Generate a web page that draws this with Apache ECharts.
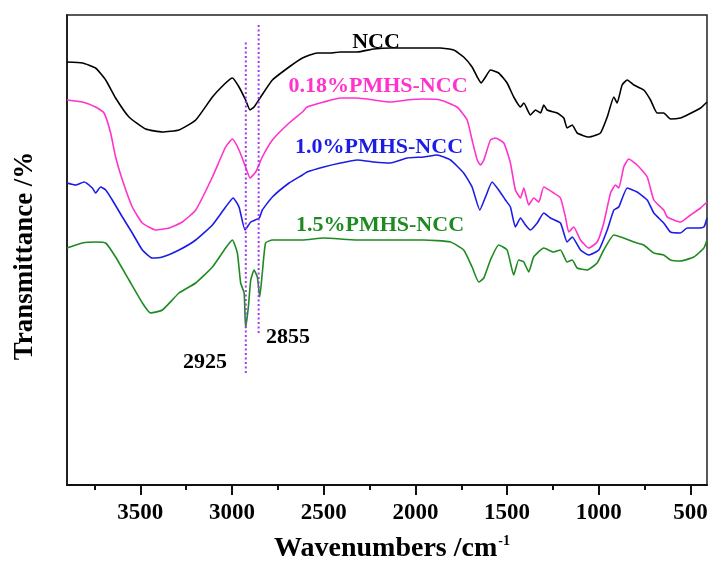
<!DOCTYPE html>
<html>
<head>
<meta charset="utf-8">
<script src="https://cdn.jsdelivr.net/npm/echarts@6/dist/echarts.min.js"></script>
<style>html,body{margin:0;padding:0;background:#fff}#c{width:711px;height:565px}</style>
</head>
<body>
<div id="c"></div>
<script>
// Wavenumbers (cm^-1) and transmittance (arbitrary offset units)
const nccWn = [3900,3816,3744,3689,3635,3562,3471,3380,3289,3198,3107,3035,2998,2962,2926,2902,2880,2844,2780,2689,2616,2536,2464,2409,2318,2227,2136,2045,1955,1864,1791,1737,1691,1663,1642,1618,1591,1546,1500,1464,1427,1409,1373,1345,1318,1300,1282,1227,1191,1173,1145,1118,1055,991,954,918,900,873,845,809,755,718,682,646,609,555,518,445,410];
const nccT  = [423,422,417,405,387,368,356,353,355,365,388,402,407,398,385,375,378,388,405,418,427,432,432,433,433,436,437,437,437,437,435,428,418,408,402,408,415,412,402,388,378,382,370,375,372,380,375,372,367,357,360,352,348,352,368,388,382,400,405,400,395,385,372,372,366,367,370,377,383];

const p018Wn = [3900,3816,3744,3698,3662,3635,3598,3544,3489,3417,3343,3271,3198,3107,3035,2998,2962,2926,2902,2871,2835,2780,2689,2616,2591,2500,2409,2318,2227,2136,2045,1955,1864,1773,1718,1691,1663,1645,1627,1591,1564,1518,1482,1455,1427,1409,1382,1355,1327,1300,1246,1209,1182,1164,1137,1100,1055,1009,973,936,909,891,864,837,791,736,700,646,627,555,500,445,410];
const p018T  = [385,383,378,372,352,328,305,278,262,255,257,263,275,308,338,346,335,318,307,313,328,345,362,373,378,383,387,387,385,383,385,386,385,378,365,345,325,320,325,345,347,342,322,295,287,297,280,287,283,298,292,287,268,253,258,245,237,243,262,292,300,297,318,326,320,308,285,275,268,263,270,277,283];

const p10Wn = [3900,3853,3807,3762,3744,3717,3689,3653,3598,3544,3489,3435,3380,3289,3198,3107,3035,2994,2962,2929,2898,2852,2835,2780,2689,2616,2591,2500,2409,2318,2227,2136,2045,1955,1882,1809,1737,1691,1649,1618,1582,1546,1509,1482,1455,1427,1400,1373,1336,1300,1264,1209,1173,1145,1100,1055,1000,954,918,891,845,791,736,700,646,609,555,518,464,427,410];
const p10T  = [302,300,303,297,292,298,295,285,268,252,235,227,228,235,245,260,278,287,278,255,263,267,275,288,302,310,313,318,322,325,323,322,327,328,330,325,312,298,275,288,303,295,285,278,258,267,260,255,262,272,267,262,243,248,235,230,235,255,275,278,297,293,285,272,262,253,252,257,257,258,267];

const p15Wn = [3900,3816,3744,3689,3635,3562,3489,3444,3380,3289,3198,3107,3035,2998,2971,2953,2934,2926,2911,2898,2880,2862,2849,2835,2817,2780,2616,2500,2318,2136,1955,1809,1737,1691,1655,1627,1591,1546,1500,1464,1437,1409,1382,1355,1300,1246,1209,1173,1145,1118,1064,1009,973,918,864,809,755,700,646,609,555,482,427,410];
const p15T  = [237,242,243,242,228,205,182,172,175,192,202,218,237,245,232,202,192,157,178,205,215,208,188,212,242,245,245,247,245,245,245,243,235,218,203,207,225,240,235,210,225,223,213,228,237,233,235,223,225,217,215,222,235,250,247,243,240,232,230,225,224,228,237,245];

const majorTicks = [3500,3000,2500,2000,1500,1000,500];
const minorTicks = [3750,3250,2750,2250,1750,1250,750];
const peakLines = [{wn:2925, from:112, to:445}, {wn:2855, from:152, to:462}];
const seriesNames = ['NCC','0.18%PMHS-NCC','1.0%PMHS-NCC','1.5%PMHS-NCC'];

const FONT = "'Liberation Serif','Times New Roman',serif";
const zip = (a,b) => a.map((v,i)=>[v,b[i]]);

const chart = echarts.init(document.getElementById('c'), null, {renderer:'canvas'});

function lineSeries(name, data, color){
  return {name, type:'line', data, showSymbol:false, symbol:'none', smooth:0.15,
    lineStyle:{color, width:1.6}, xAxisIndex:0, yAxisIndex:0, z:3};
}

const option = {
  animation:false,
  backgroundColor:'#fff',
  grid:{left:67, right:4, top:15, bottom:80, show:true, borderColor:'#222', borderWidth:1.5},
  xAxis:[{
    type:'value', inverse:true, min:410, max:3900, position:'bottom',
    axisLine:{show:true, lineStyle:{color:'#111', width:2}},
    axisTick:{show:true, customValues:majorTicks, length:10, inside:false, lineStyle:{color:'#111', width:2}},
    axisLabel:{show:true, customValues:majorTicks, formatter:v => String(v), margin:17, color:'#000', fontFamily:FONT, fontWeight:'bold', fontSize:23},
    splitLine:{show:false}
  },{
    type:'value', inverse:true, min:410, max:3900, position:'bottom', gridIndex:0,
    axisLine:{show:false},
    axisTick:{show:true, customValues:minorTicks, length:5, inside:false, lineStyle:{color:'#111', width:2}},
    axisLabel:{show:false},
    splitLine:{show:false}
  }],
  yAxis:{
    type:'value', min:0, max:470,
    axisLine:{show:true, lineStyle:{color:'#222', width:2}},
    axisTick:{show:false}, axisLabel:{show:false}, splitLine:{show:false}
  },
  series:[
    lineSeries(seriesNames[0], zip(nccWn,nccT), '#000000'),
    lineSeries(seriesNames[1], zip(p018Wn,p018T), '#ff33cc'),
    lineSeries(seriesNames[2], zip(p10Wn,p10T), '#1c1ce6'),
    lineSeries(seriesNames[3], zip(p15Wn,p15T), '#1e8a22'),
    ...peakLines.map(p => ({
      type:'line', data:[[p.wn,p.from],[p.wn,p.to]], showSymbol:false, symbol:'none',
      lineStyle:{color:'#a03cf0', width:2, type:[2,2.5]}, z:4
    }))
  ],
  graphic:[
    {type:'text', x:376, y:42, style:{text:'NCC', fill:'#000', font:`bold 22px ${FONT}`, textAlign:'center', textVerticalAlign:'middle'}},
    {type:'text', x:378, y:86, style:{text:'0.18%PMHS-NCC', fill:'#ff33cc', font:`bold 22px ${FONT}`, textAlign:'center', textVerticalAlign:'middle'}},
    {type:'text', x:379, y:147, style:{text:'1.0%PMHS-NCC', fill:'#1c1ce6', font:`bold 22px ${FONT}`, textAlign:'center', textVerticalAlign:'middle'}},
    {type:'text', x:380, y:225, style:{text:'1.5%PMHS-NCC', fill:'#1e8a22', font:`bold 22px ${FONT}`, textAlign:'center', textVerticalAlign:'middle'}},
    {type:'text', x:205, y:362, style:{text:'2925', fill:'#000', font:`bold 22px ${FONT}`, textAlign:'center', textVerticalAlign:'middle'}},
    {type:'text', x:288, y:337, style:{text:'2855', fill:'#000', font:`bold 22px ${FONT}`, textAlign:'center', textVerticalAlign:'middle'}},
    {type:'text', x:25, y:256, rotation:Math.PI/2, style:{text:'Transmittance /%', fill:'#000', font:`bold 27px ${FONT}`, textAlign:'center', textVerticalAlign:'middle'}},
    {type:'text', x:392, y:549, style:{
      text:'{a|Wavenumbers /cm}{b|-1}', textAlign:'center', textVerticalAlign:'middle',
      rich:{
        a:{fontFamily:FONT, fontWeight:'bold', fontSize:28, fill:'#000', lineHeight:30},
        b:{fontFamily:FONT, fontWeight:'bold', fontSize:14, fill:'#000', verticalAlign:'top', lineHeight:30, padding:[0,0,12,1]}
      }
    }}
  ]
};
chart.setOption(option);
</script>
</body>
</html>
